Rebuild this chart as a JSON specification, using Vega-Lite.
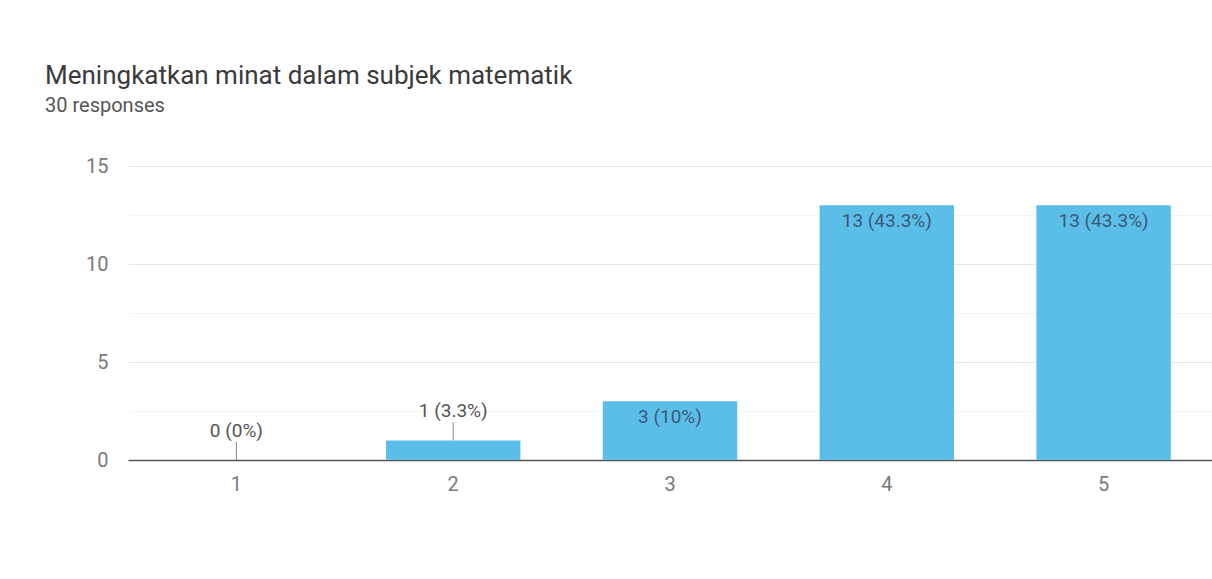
{
  "$schema": "https://vega.github.io/schema/vega-lite/v6.json",
  "width": 1084,
  "height": 294,
  "autosize": {"type": "none"},
  "padding": {"left": 128, "top": 166, "right": 0, "bottom": 119},
  "background": "white",
  "title": {
    "text": "Meningkatkan minat dalam subjek matematik",
    "subtitle": "30 responses",
    "anchor": "start",
    "frame": "group",
    "dx": -83,
    "offset": 40,
    "font": "Roboto",
    "fontSize": 26,
    "fontWeight": "normal",
    "color": "#3a3a3a",
    "subtitleFont": "Roboto",
    "subtitleFontSize": 20,
    "subtitleColor": "#555555",
    "subtitlePadding": 7
  },
  "config": {
    "view": {"stroke": null},
    "axis": {"labelFont": "Roboto", "labelFontSize": 20, "labelColor": "#7a7a7a"}
  },
  "data": {
    "values": [
      {"skor": "1", "jumlah": 0, "label": "0 (0%)"},
      {"skor": "2", "jumlah": 1, "label": "1 (3.3%)"},
      {"skor": "3", "jumlah": 3, "label": "3 (10%)"},
      {"skor": "4", "jumlah": 13, "label": "13 (43.3%)"},
      {"skor": "5", "jumlah": 13, "label": "13 (43.3%)"}
    ]
  },
  "encoding": {
    "x": {
      "field": "skor",
      "type": "ordinal",
      "scale": {"paddingInner": 0.38, "paddingOuter": 0.19},
      "axis": {
        "title": null,
        "labelAngle": 0,
        "ticks": false,
        "domainColor": "#555555",
        "domainWidth": 1.5,
        "labelPadding": 14,
        "grid": false
      }
    }
  },
  "layer": [
    {
      "mark": {"type": "bar", "color": "#5BBEE9"},
      "encoding": {
        "y": {
          "field": "jumlah",
          "type": "quantitative",
          "scale": {"domain": [0, 15], "nice": false},
          "axis": {
            "title": null,
            "values": [0, 2.5, 5, 7.5, 10, 12.5, 15],
            "labelExpr": "datum.value % 5 === 0 ? datum.label : ''",
            "domain": false,
            "ticks": false,
            "labelPadding": 20,
            "grid": true,
            "gridColor": {"condition": {"test": "datum.value % 5 === 0", "value": "#e8e8e8"}, "value": "#f5f5f5"},
            "gridWidth": 1
          }
        }
      }
    },
    {
      "transform": [{"filter": "datum.jumlah >= 2"}],
      "mark": {"type": "text", "baseline": "top", "dy": 7, "font": "Roboto", "fontSize": 19, "color": "#3b5a78"},
      "encoding": {
        "y": {"field": "jumlah", "type": "quantitative"},
        "text": {"field": "label"}
      }
    },
    {
      "transform": [{"filter": "datum.jumlah < 2"}],
      "mark": {"type": "rule", "color": "#888888", "strokeWidth": 1, "y2Offset": -18},
      "encoding": {
        "y": {"field": "jumlah", "type": "quantitative"},
        "y2": {"field": "jumlah"}
      }
    },
    {
      "transform": [{"filter": "datum.jumlah < 2"}],
      "mark": {"type": "text", "baseline": "alphabetic", "dy": -23, "font": "Roboto", "fontSize": 19, "color": "#555555"},
      "encoding": {
        "y": {"field": "jumlah", "type": "quantitative"},
        "text": {"field": "label"}
      }
    }
  ]
}
